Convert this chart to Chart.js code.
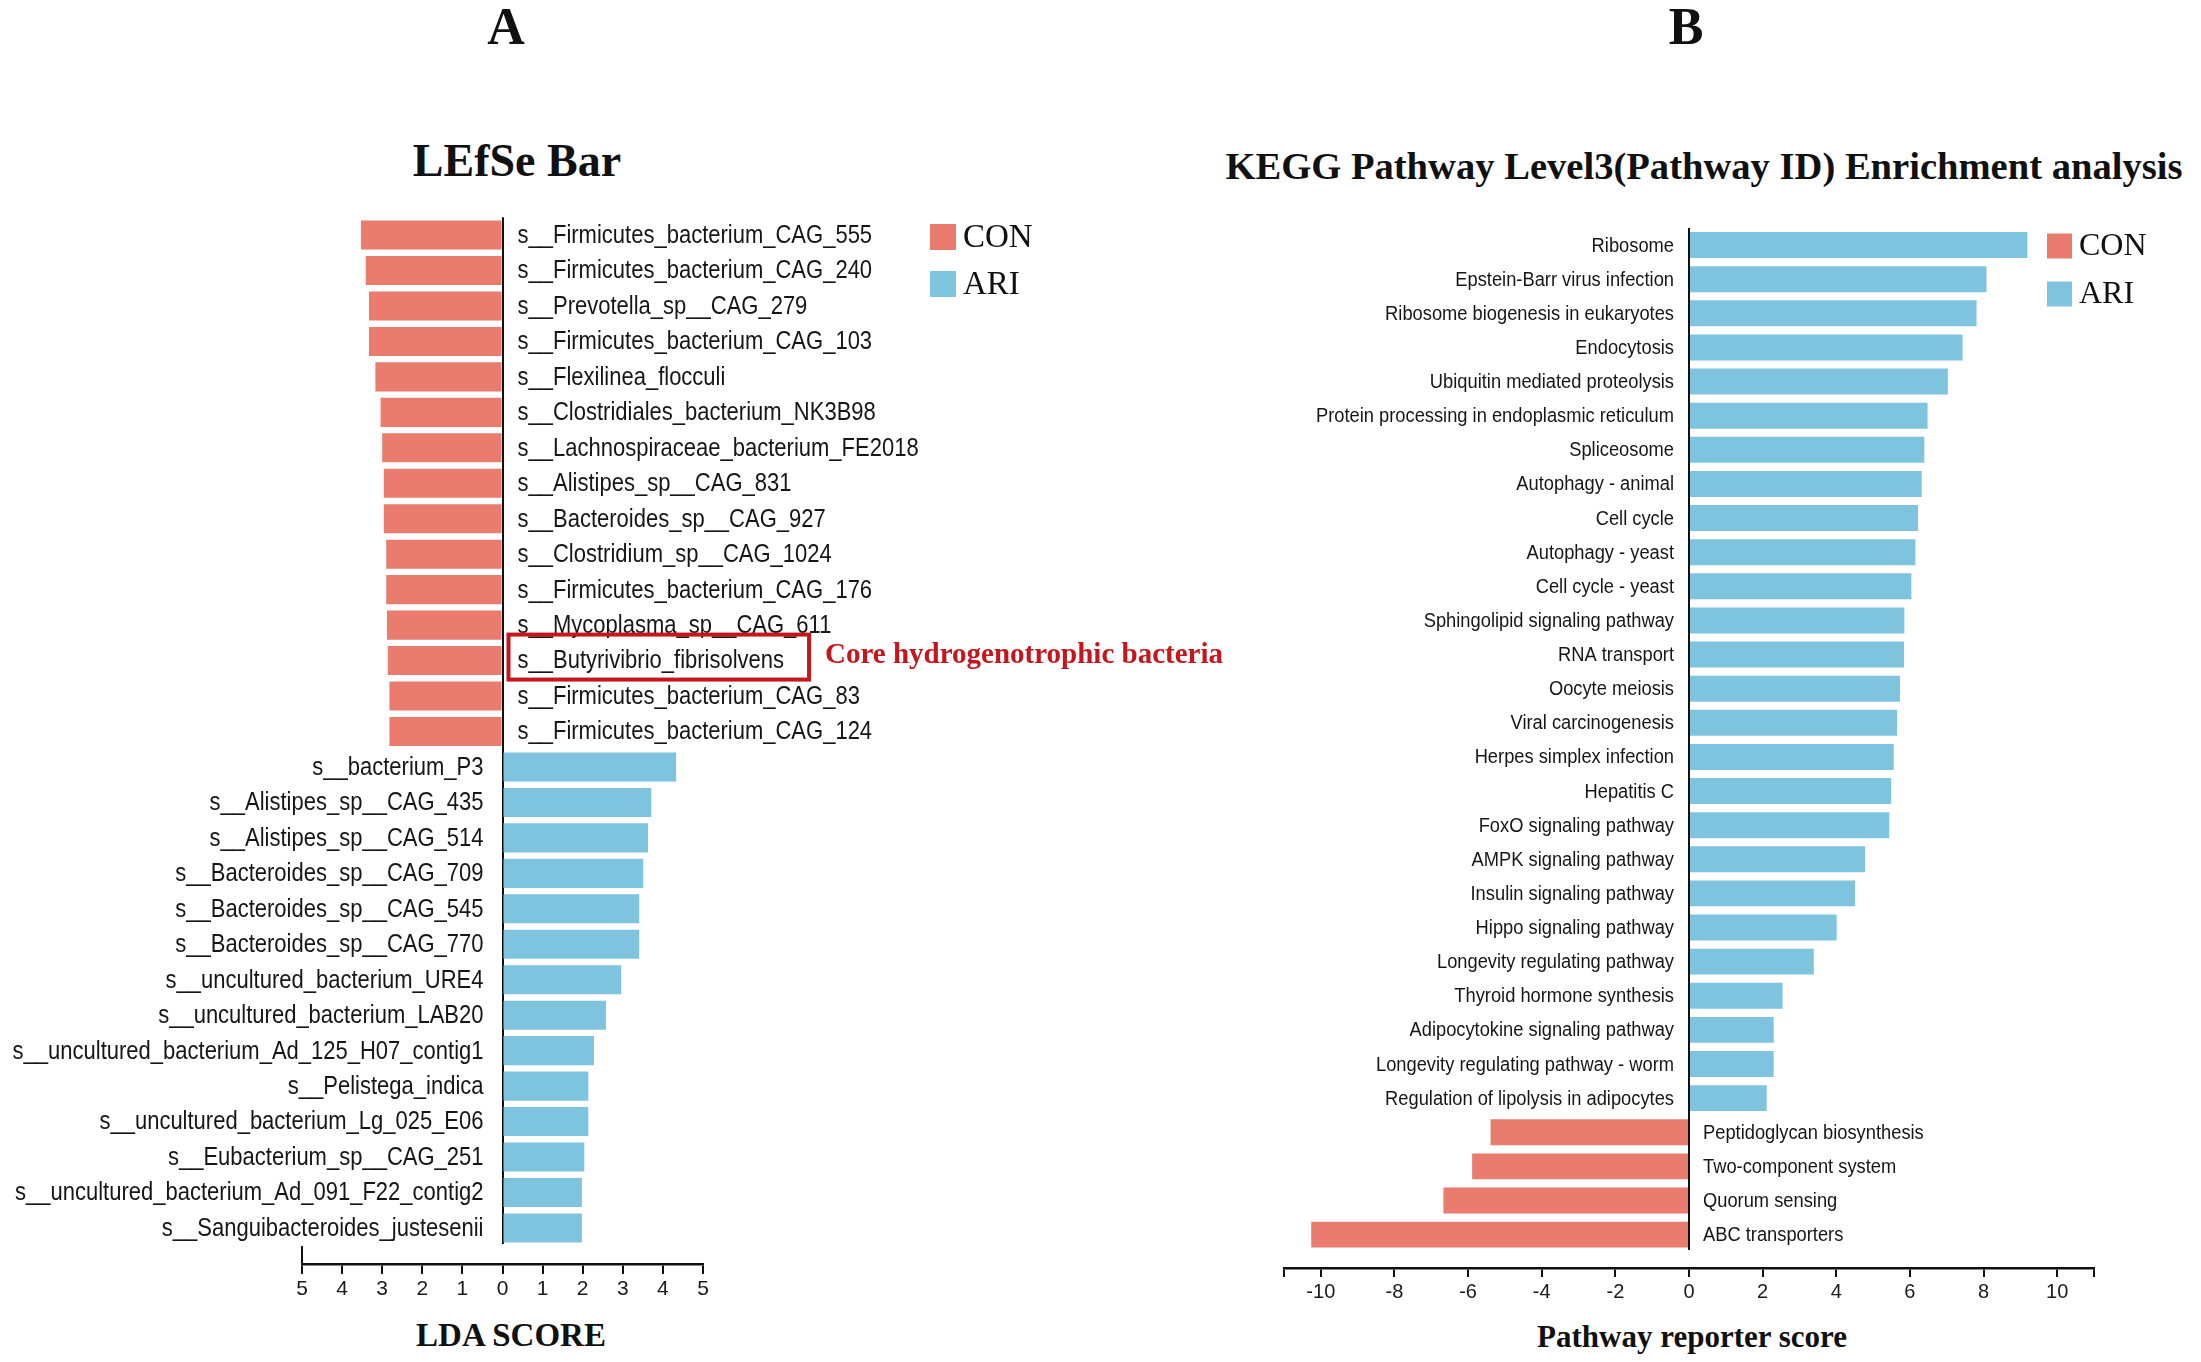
<!DOCTYPE html>
<html>
<head>
<meta charset="utf-8">
<script src="https://cdn.jsdelivr.net/npm/chart.js@4.4.1/dist/chart.umd.min.js"></script>
<style>
  html, body { margin: 0; padding: 0; background: #fff; }
  body { width: 2201px; height: 1362px; position: relative; overflow: hidden; }
  canvas { position: absolute; top: 0; }
  #chartA { left: 0; }
  #chartB { left: 1100px; }
  .txt { position: absolute; transform: translate(-50%, -50%); font-family: "Liberation Serif", "Times New Roman", serif;
         font-weight: bold; line-height: 1; white-space: nowrap; color: #111; }
</style>
</head>
<body>
<div class="txt" style="left:506px; top:27px; font-size:52px">A</div>
<div class="txt" style="left:1686px; top:27px; font-size:52px">B</div>
<div class="txt" style="left:517px; top:161px; font-size:46px">LEfSe Bar</div>
<div class="txt" style="left:1704px; top:166px; font-size:38.6px">KEGG Pathway Level3(Pathway ID) Enrichment analysis</div>
<div class="txt" style="left:511px; top:1335px; font-size:33px">LDA SCORE</div>
<div class="txt" style="left:1692px; top:1336px; font-size:31px">Pathway reporter score</div>

<canvas id="chartA" width="1260" height="1362"></canvas>
<canvas id="chartB" width="1101" height="1362"></canvas>

<script>
// panel A : LEfSe, LDA scores (CON drawn to the left)
const conSpecies = ['s__Firmicutes_bacterium_CAG_555', 's__Firmicutes_bacterium_CAG_240', 's__Prevotella_sp__CAG_279',
  's__Firmicutes_bacterium_CAG_103', 's__Flexilinea_flocculi', 's__Clostridiales_bacterium_NK3B98',
  's__Lachnospiraceae_bacterium_FE2018', 's__Alistipes_sp__CAG_831', 's__Bacteroides_sp__CAG_927',
  's__Clostridium_sp__CAG_1024', 's__Firmicutes_bacterium_CAG_176', 's__Mycoplasma_sp__CAG_611',
  's__Butyrivibrio_fibrisolvens', 's__Firmicutes_bacterium_CAG_83', 's__Firmicutes_bacterium_CAG_124'];
const conLda = [3.53, 3.41, 3.33, 3.33, 3.17, 3.04, 3.00, 2.96, 2.96, 2.90, 2.90, 2.88, 2.86, 2.82, 2.82];

const ariSpecies = ['s__bacterium_P3', 's__Alistipes_sp__CAG_435', 's__Alistipes_sp__CAG_514', 's__Bacteroides_sp__CAG_709',
  's__Bacteroides_sp__CAG_545', 's__Bacteroides_sp__CAG_770', 's__uncultured_bacterium_URE4',
  's__uncultured_bacterium_LAB20', 's__uncultured_bacterium_Ad_125_H07_contig1', 's__Pelistega_indica',
  's__uncultured_bacterium_Lg_025_E06', 's__Eubacterium_sp__CAG_251', 's__uncultured_bacterium_Ad_091_F22_contig2',
  's__Sanguibacteroides_justesenii'];
const ariLda = [4.33, 3.71, 3.63, 3.51, 3.41, 3.41, 2.96, 2.58, 2.28, 2.14, 2.14, 2.04, 1.98, 1.98];

const ldaTicks = [-5, -4, -3, -2, -1, 0, 1, 2, 3, 4, 5];
const highlighted = 's__Butyrivibrio_fibrisolvens';
const highlightNote = 'Core hydrogenotrophic bacteria';

// panel B : KEGG pathway reporter scores
const ariPathways = ['Ribosome', 'Epstein-Barr virus infection', 'Ribosome biogenesis in eukaryotes', 'Endocytosis',
  'Ubiquitin mediated proteolysis', 'Protein processing in endoplasmic reticulum', 'Spliceosome', 'Autophagy - animal',
  'Cell cycle', 'Autophagy - yeast', 'Cell cycle - yeast', 'Sphingolipid signaling pathway', 'RNA transport',
  'Oocyte meiosis', 'Viral carcinogenesis', 'Herpes simplex infection', 'Hepatitis C', 'FoxO signaling pathway',
  'AMPK signaling pathway', 'Insulin signaling pathway', 'Hippo signaling pathway', 'Longevity regulating pathway',
  'Thyroid hormone synthesis', 'Adipocytokine signaling pathway', 'Longevity regulating pathway - worm',
  'Regulation of lipolysis in adipocytes'];
const ariScore = [9.19, 8.08, 7.81, 7.43, 7.03, 6.48, 6.39, 6.32, 6.22, 6.15, 6.04, 5.85, 5.84, 5.73, 5.65, 5.56,
  5.49, 5.44, 4.78, 4.51, 4.01, 3.39, 2.54, 2.30, 2.30, 2.11];

const conPathways = ['Peptidoglycan biosynthesis', 'Two-component system', 'Quorum sensing', 'ABC transporters'];
const conScore = [-5.39, -5.89, -6.67, -10.26];

const scoreTicks = [-11, -10, -8, -6, -4, -2, 0, 2, 4, 6, 8, 10, 11];

const CON_COLOR = '#E97B6F';
const ARI_COLOR = '#7EC4DF';
const SANS = '"Liberation Sans", Arial, sans-serif';
const SERIF = '"Liberation Serif", "Times New Roman", serif';

// draws row labels on the side opposite to the bar, the legend, and extras
function panelPlugin(cfg) {
  return {
    id: 'panel' + cfg.name,
    afterLayout(chart) {
      // push the value axis a little below the bars, like the original
      const s = chart.scales.x;
      s.top = cfg.axisY;
      s.bottom = cfg.axisY + 60;
    },
    afterDraw(chart) {
      const ctx = chart.ctx;
      const x = chart.scales.x, y = chart.scales.y;
      const x0 = x.getPixelForValue(0);

      ctx.save();
      ctx.font = cfg.labelSize + 'px ' + SANS;
      ctx.fillStyle = '#161616';
      ctx.textBaseline = 'middle';
      chart.data.labels.forEach((lab, i) => {
        const v = chart.data.datasets.map(d => d.data[i]).find(d => d !== null);
        const right = v < 0;
        ctx.save();
        ctx.translate(right ? x0 + cfg.gapRight : x0 - cfg.gapLeft, y.getPixelForValue(i) + 1);
        ctx.scale(cfg.squeeze, 1);
        ctx.textAlign = right ? 'left' : 'right';
        ctx.fillText(lab, 0, 0);
        ctx.restore();
      });
      ctx.restore();

      // legend
      ctx.save();
      ctx.font = cfg.legend.size + 'px ' + SERIF;
      ctx.textBaseline = 'middle';
      ctx.textAlign = 'left';
      chart.data.datasets.forEach((ds, k) => {
        const cy = cfg.legend.y[k];
        ctx.fillStyle = ds.backgroundColor;
        ctx.fillRect(cfg.legend.x, cy - cfg.legend.box / 2, cfg.legend.box, cfg.legend.box);
        ctx.fillStyle = '#111';
        ctx.fillText(ds.label, cfg.legend.x + cfg.legend.box + 7, cy + 1);
      });
      ctx.restore();

      if (cfg.extra) cfg.extra(chart, ctx, x, y, x0);
    }
  };
}

function zeroLine(c) {
  return c.tick && c.tick.value === 0 ? '#111' : 'rgba(0,0,0,0)';
}

// ---------- panel A ----------
const labelsA = conSpecies.concat(ariSpecies);
new Chart(document.getElementById('chartA'), {
  type: 'bar',
  data: {
    labels: labelsA,
    datasets: [
      { label: 'CON', data: conLda.map(v => -v).concat(ariSpecies.map(() => null)), backgroundColor: CON_COLOR },
      { label: 'ARI', data: conSpecies.map(() => null).concat(ariLda), backgroundColor: ARI_COLOR }
    ]
  },
  options: {
    indexAxis: 'y',
    responsive: false,
    animation: false,
    devicePixelRatio: 1,
    events: [],
    layout: { padding: { left: 302, right: 557, top: 217.3, bottom: 116.3 } },
    datasets: { bar: { grouped: false, barPercentage: 0.82, categoryPercentage: 1 } },
    plugins: { legend: { display: false }, tooltip: { enabled: false } },
    scales: {
      y: { display: false },
      x: {
        type: 'linear', min: -5, max: 5, z: 1,
        afterFit: s => { s.height = 0; },
        afterBuildTicks: s => { s.ticks = ldaTicks.map(v => ({ value: v })); },
        ticks: { callback: v => Math.abs(v), color: '#1a1a1a', padding: 3, maxRotation: 0,
                 font: { family: SANS, size: 21 } },
        grid: { color: zeroLine, lineWidth: 2, tickColor: '#111', tickWidth: 2, tickLength: 10 },
        border: { display: true, color: '#111', width: 2.5 }
      }
    }
  },
  plugins: [panelPlugin({
    name: 'A', axisY: 1264, labelSize: 25, squeeze: 0.88, gapLeft: 19, gapRight: 15,
    legend: { x: 930, y: [237, 284], box: 26, size: 33 },
    extra(chart, ctx, x, y, x0) {
      // end cap on the left of the axis
      ctx.save();
      ctx.strokeStyle = '#111';
      ctx.lineWidth = 2;
      const xl = x.getPixelForValue(ldaTicks[0]);
      ctx.beginPath();
      ctx.moveTo(xl, 1264 - 18);
      ctx.lineTo(xl, 1264);
      ctx.stroke();

      // highlighted species
      const yi = y.getPixelForValue(chart.data.labels.indexOf(highlighted));
      ctx.font = 25 + 'px ' + SANS;
      const w = ctx.measureText(highlighted).width * 0.88;
      const bx = x0 + 6, bw = 14 + w + 20;
      ctx.strokeStyle = '#C4161C';
      ctx.lineWidth = 4;
      ctx.strokeRect(bx, yi - 26, bw, 45);
      ctx.fillStyle = '#C4161C';
      ctx.font = 'bold 29px ' + SERIF;
      ctx.textBaseline = 'middle';
      ctx.textAlign = 'left';
      ctx.fillText(highlightNote, bx + bw + 16, yi - 5);
      ctx.restore();
    }
  })]
});

// ---------- panel B ----------
const labelsB = ariPathways.concat(conPathways);
new Chart(document.getElementById('chartB'), {
  type: 'bar',
  data: {
    labels: labelsB,
    datasets: [
      { label: 'CON', data: ariPathways.map(() => null).concat(conScore), backgroundColor: CON_COLOR },
      { label: 'ARI', data: ariScore.concat(conPathways.map(() => null)), backgroundColor: ARI_COLOR }
    ]
  },
  options: {
    indexAxis: 'y',
    responsive: false,
    animation: false,
    devicePixelRatio: 1,
    events: [],
    layout: { padding: { left: 184, right: 107, top: 228, bottom: 110.3 } },
    datasets: { bar: { grouped: false, barPercentage: 0.76, categoryPercentage: 1 } },
    plugins: { legend: { display: false }, tooltip: { enabled: false } },
    scales: {
      y: { display: false },
      x: {
        type: 'linear', min: -11, max: 11, z: 1,
        afterFit: s => { s.height = 0; },
        afterBuildTicks: s => { s.ticks = scoreTicks.map(v => ({ value: v })); },
        ticks: { callback: v => (Math.abs(v) === 11 ? '' : v), color: '#1a1a1a', padding: 3, maxRotation: 0,
                 autoSkip: false, font: { family: SANS, size: 20 } },
        grid: { color: zeroLine, lineWidth: 2, tickColor: '#111', tickWidth: 2, tickLength: 9 },
        border: { display: true, color: '#111', width: 2.5 }
      }
    }
  },
  plugins: [panelPlugin({
    name: 'B', axisY: 1268, labelSize: 20, squeeze: 0.915, gapLeft: 15, gapRight: 14,
    legend: { x: 947, y: [246, 294], box: 25, size: 32 }
  })]
});
</script>
</body>
</html>
